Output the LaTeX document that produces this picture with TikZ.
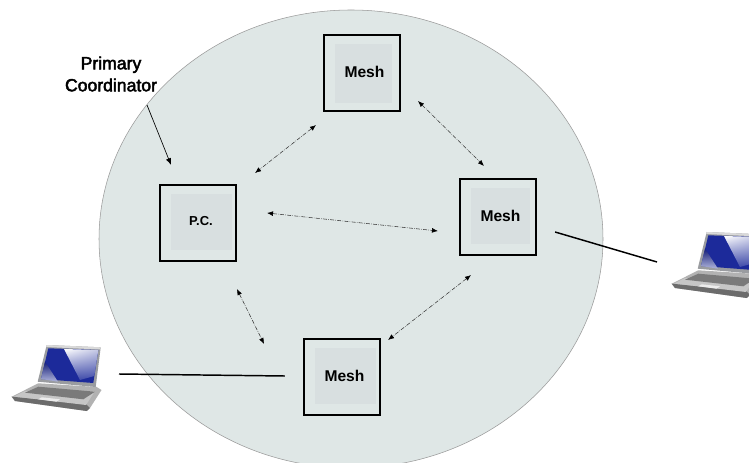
\documentclass[tikz,border=0pt]{standalone}
\usepackage{fontspec}
\setmainfont{Liberation Sans}
\newfontfamily\labfont[FakeBold=2.6]{Liberation Sans}
\usetikzlibrary{arrows.meta,shadings}
\definecolor{cloud}{HTML}{DFE7E6}
\definecolor{inner}{HTML}{D8DFE0}
\definecolor{lidgray}{HTML}{9A9CA0}
\definecolor{scrblue}{HTML}{1C2A9A}
\definecolor{scrdark}{HTML}{141E78}
\tikzset{
  boxnode/.style={draw=black,line width=1.6pt,minimum size=57pt,inner sep=0pt},
  innerpad/.style={fill=inner,draw=none},
  meshlabel/.style={font=\bfseries\fontsize{11.7}{13}\selectfont},
  linkarrow/.style={densely dashdotted,line width=0.4pt,draw=black!80,{Latex[length=4.5pt,width=3.6pt,black]}-{Latex[length=4.5pt,width=3.6pt,black]}},
  uplink/.style={line width=1.1pt,black},
  pics/laptop/.style={code={
    % base
    \fill[gray!60!white] (11.7,396.7) -- (38.3,383.3) -- (96.7,387) -- (101.5,390) -- (90,408) -- (86.7,411) -- (15,401) -- cycle;
    \fill[gray!85!black] (11.7,396.7) -- (15,401) -- (86.7,411) -- (90,408) -- (86,404) -- cycle;
    \fill[gray!45!white] (14,396.5) -- (25,391) -- (95,391) -- (86,405) -- cycle;
    \fill[black!52] (25,392.7) -- (38.3,386.7) -- (95,391.7) -- (83.3,399.3) -- cycle;
    \fill[white!85!gray] (41.7,397.3) -- (60,399.3) -- (56.7,401.7) -- (38.3,399.3) -- cycle;
    % lid
    \fill[lidgray] (46.7,345) -- (100.7,347.3) -- (95.7,387) -- (37.7,381.7) -- cycle;
    \fill[black!15] (46.7,345) -- (100.7,347.3) -- (100.3,349.5) -- (46.2,347) -- cycle;
    \fill[scrblue] (48.3,348.3) -- (98.3,350) -- (93.3,383) -- (41,379) -- cycle;
    \shade[upper left=white,upper right=scrblue!25!white,lower right=scrblue!85!white,lower left=scrblue!85!white] (64,349) -- (98.3,350) -- (94.3,376) -- (80,380) -- cycle;
    \shade[top color=scrdark,bottom color=scrblue!35!white] (45,361.7) -- (58,381.7) -- (41,379) -- cycle;
  }}
}
\begin{document}
\begin{tikzpicture}[x=0.75pt,y=-0.75pt]
\useasboundingbox (0,0) rectangle (749,463);
\begin{scope}
\clip (0,0) rectangle (749,463);
\fill[white] (0,0) rectangle (749,463);
\draw[fill=cloud,draw=gray!80,line width=0.4pt] (351,239) ellipse [x radius=252,y radius=229];
\pic at (0,0) {laptop};
\pic at (660,-113) {laptop};
\end{scope}
% inner pads
\fill[innerpad] (335,44) rectangle (392,103);
\fill[innerpad] (171,194) rectangle (232,250);
\fill[innerpad] (471,188) rectangle (530,244);
\fill[innerpad] (315,348) rectangle (376,404);
% boxes
\node[boxnode] (top) at (362,73) {};
\node[boxnode] (pc) at (198,223) {};
\node[boxnode] (right) at (498,217) {};
\node[boxnode] (bottom) at (342,377) {};
\node[meshlabel] (toplab) at (364.5,72) {Mesh};
\node[font=\bfseries\fontsize{9.75}{11}\selectfont] (pclab) at (201,221.5) {P.C.};
\node[meshlabel] (rightlab) at (500.5,216) {Mesh};
\node[meshlabel] (bottomlab) at (344.5,376) {Mesh};
\node[align=center,font=\labfont\fontsize{13.2}{16.5}\selectfont] (coord) at (111,74) {Primary\\Coordinator};
% connector ends
\coordinate (tp1) at ([shift={(-46,13)}]top.south);
\coordinate (tp2) at ([shift={(18,-50)}]pc.east);
\coordinate (tr1) at ([shift={(17,-11)}]top.south east);
\coordinate (tr2) at ([shift={(-14,-12)}]right.north);
\coordinate (pr1) at ([shift={(30,-10)}]pc.east);
\coordinate (pr2) at ([shift={(-21,14)}]right.west);
\coordinate (pb1) at ([shift={(39,27)}]pc.south);
\coordinate (pb2) at ([shift={(-78,6)}]bottom.north);
\coordinate (br1) at ([shift={(-27,19)}]right.south);
\coordinate (br2) at ([shift={(7,2)}]bottom.north east);
\coordinate (cstart) at (147,105);
\coordinate (cend) at ([shift={(-27,-19)}]pc.north);
\coordinate (lapL) at (119,374);
\coordinate (lapR) at (657,262);
\coordinate (meshB) at ([shift={(-18,-1)}]bottom.west);
\coordinate (meshR) at ([shift={(18,15)}]right.east);
% connectors
\draw[linkarrow] (tp1) -- (tp2);
\draw[linkarrow] (tr1) -- (tr2);
\draw[linkarrow] (pr1) -- (pr2);
\draw[linkarrow] (pb1) -- (pb2);
\draw[linkarrow] (br1) -- (br2);
\draw[line width=0.5pt,-{Latex[length=5pt,width=4pt]}] (cstart) -- (cend);
\draw[uplink] (lapL) -- (meshB);
\draw[uplink] (meshR) -- (lapR);
\end{tikzpicture}
\end{document}
